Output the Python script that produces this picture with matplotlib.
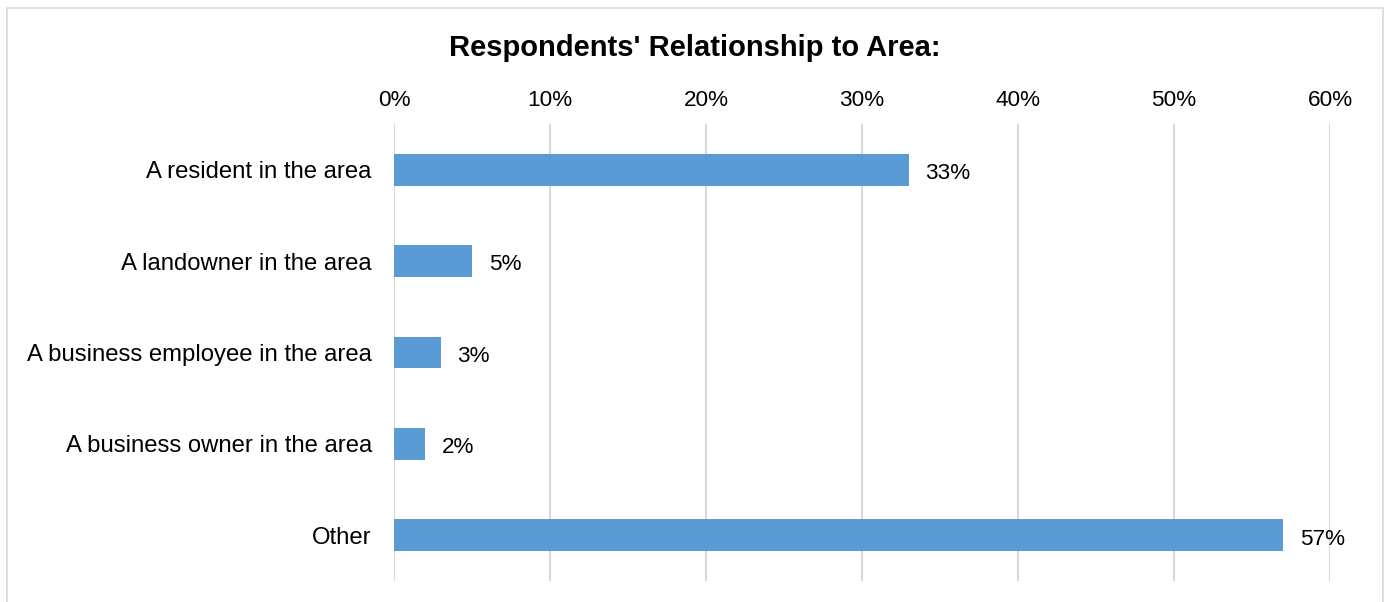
import matplotlib.pyplot as plt
import matplotlib.patches as patches
from matplotlib.ticker import MultipleLocator, FuncFormatter

plt.rcParams['font.family'] = ['Liberation Sans', 'DejaVu Sans']

categories = [
    "A resident in the area",
    "A landowner in the area",
    "A business employee in the area",
    "A business owner in the area",
    "Other",
]
shares = [33, 5, 3, 2, 57]

BAR_COLOR = "#5b9bd5"
GRID_COLOR = "#d9d9d9"

W, H = 1388, 602
fig = plt.figure(figsize=(W / 100, H / 100), dpi=100)
ax = fig.add_axes([394 / W, 1 - 581 / H, (1330 - 394) / W, (581 - 124) / H])

# outer chart frame (bottom edge runs past the canvas)
frame = patches.Rectangle((7 / W, -0.05), (1383 - 7) / W, 1.05 - 8 / H,
                          transform=fig.transFigure, fill=False,
                          edgecolor=GRID_COLOR, linewidth=1.2, clip_on=False)
fig.patches.append(frame)

pos = list(range(len(categories)))
ax.barh(pos, shares, height=0.35, color=BAR_COLOR, zorder=2)
for y, v in zip(pos, shares):
    ax.annotate(f"{v}%", (v, y), xytext=(12, -1), textcoords="offset points",
                va="center_baseline", ha="left", fontsize=16.2, color="#000000")

ax.set_xlim(0, 60)
ax.set_ylim(len(categories) - 0.5, -0.5)
ax.set_yticks(pos)
ax.set_yticklabels(categories, fontsize=17.2)
ax.xaxis.set_major_locator(MultipleLocator(10))
ax.xaxis.set_major_formatter(FuncFormatter(lambda x, _: f"{x:.0f}%"))
ax.xaxis.tick_top()
ax.tick_params(axis="x", labelsize=16.2, length=0, pad=9)
ax.tick_params(axis="y", length=0, pad=16)
ax.grid(axis="x", color=GRID_COLOR, linewidth=1.5, zorder=0)
ax.set_axisbelow(True)
for s in ax.spines.values():
    s.set_visible(False)

fig.text((447 + 943) / 2 / W, 1 - 48 / H, "Respondents' Relationship to Area:",
         ha="center", va="center", fontsize=21, fontweight="bold")

fig.savefig("out.png", dpi=100)
